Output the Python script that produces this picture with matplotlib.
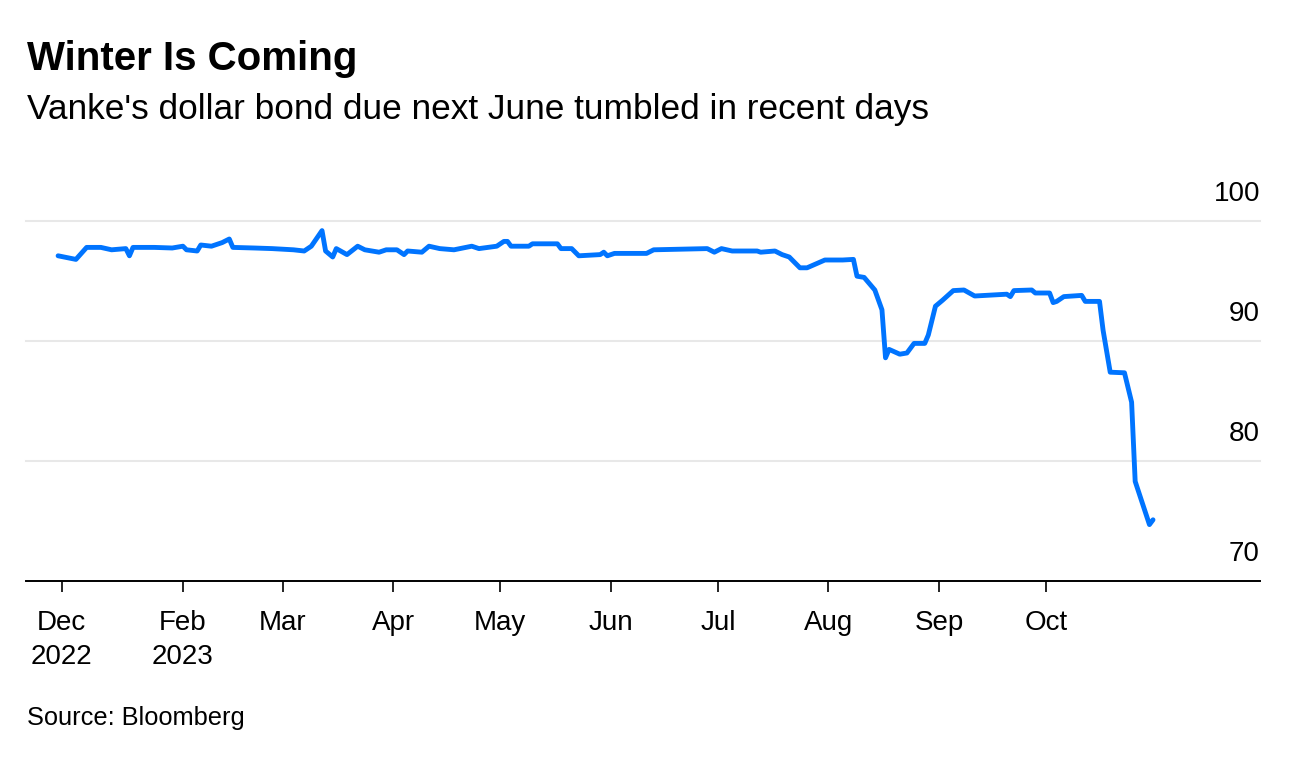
import numpy as np
import matplotlib
matplotlib.use("Agg")
import matplotlib.pyplot as plt
import pandas as pd

# Vanke dollar bond price, days counted from 2022-12-29
start_date = "2022-12-29"
day_offset = [-1, 4, 7, 11, 14, 18, 19, 20, 26, 31, 34, 35, 38, 39, 42, 45, 47, 48,
              54, 59, 65, 68, 70, 73, 74, 76, 77, 80, 83, 85, 89, 91, 94, 96, 97,
              101, 103, 106, 110, 115, 117, 122, 124, 125, 126, 131, 132, 139, 140,
              143, 145, 151, 152, 153, 155, 164, 166, 181, 183, 185, 188, 195, 196,
              200, 202, 204, 207, 209, 214, 219, 222, 223, 225, 228, 230, 231, 232,
              235, 237, 239, 242, 243, 245, 247, 250, 253, 256, 259, 265, 266, 267,
              272, 273, 277, 278, 279, 281, 286, 287, 291, 292, 294, 298, 300, 301,
              305, 306]
price = [97.1, 96.8, 97.8, 97.8, 97.6, 97.7, 97.1, 97.8, 97.8, 97.75, 97.9, 97.6,
         97.5, 98.0, 97.9, 98.2, 98.5, 97.8, 97.75, 97.7, 97.6, 97.5, 97.9, 99.2,
         97.5, 97.0, 97.7, 97.2, 97.9, 97.6, 97.4, 97.6, 97.6, 97.2, 97.5, 97.4,
         97.9, 97.7, 97.6, 97.9, 97.7, 97.9, 98.3, 98.3, 97.9, 97.9, 98.1, 98.1,
         97.7, 97.7, 97.1, 97.2, 97.4, 97.1, 97.3, 97.3, 97.6, 97.7, 97.4, 97.7,
         97.5, 97.5, 97.4, 97.5, 97.2, 97.0, 96.1, 96.1, 96.75, 96.75, 96.8, 95.4,
         95.3, 94.25, 92.6, 88.6, 89.3, 88.9, 89.0, 89.8, 89.8, 90.5, 92.9, 93.4,
         94.2, 94.25, 93.75, 93.8, 93.9, 93.7, 94.2, 94.25, 94.0, 94.0, 93.2, 93.3,
         93.7, 93.8, 93.3, 93.3, 90.9, 87.4, 87.35, 84.9, 78.3, 74.7, 75.1]

tick_dates = ["2022-12-29", "2023-02-01", "2023-03-01", "2023-04-01", "2023-05-01",
              "2023-06-01", "2023-07-01", "2023-08-01", "2023-09-01", "2023-10-01"]
tick_labels = ["Dec\n2022", "Feb\n2023", "Mar", "Apr", "May", "Jun", "Jul", "Aug",
               "Sep", "Oct"]
y_ticks = [70, 80, 90, 100]

dates = pd.Timestamp(start_date) + pd.to_timedelta(day_offset, unit="D")

plt.rcParams['font.family'] = ['Liberation Sans', 'DejaVu Sans']

W, H = 1290, 772
fig = plt.figure(figsize=(W / 100, H / 100), dpi=100)
ax = fig.add_axes([26 / W, 1 - 581 / H, (1260 - 26) / W, 360 / H])

ax.plot(dates, price, color="#0074ff", lw=3.5, solid_joinstyle="round",
        solid_capstyle="round", zorder=3)

ax.set_ylim(70, 100)
ax.set_xlim(pd.Timestamp("2022-12-19"), pd.Timestamp("2023-11-30"))

# gridlines + labels sitting above them on the right
for v in y_ticks:
    if v != 70:
        ax.axhline(v, color="#e8e8e8", lw=1.5, zorder=1, clip_on=False)
    ax.annotate(str(v), xy=(1.0, v), xycoords=("axes fraction", "data"),
                xytext=(0, 27), textcoords="offset pixels",
                ha="right", va="center", fontsize=20, color="black")

ax.set_yticks([])
for s in ["left", "right", "top"]:
    ax.spines[s].set_visible(False)
ax.spines["bottom"].set_linewidth(1.4)
ax.spines["bottom"].set_color("black")

ax.set_xticks(pd.to_datetime(tick_dates))
ax.set_xticklabels(tick_labels, fontsize=20, linespacing=1.38)
ax.tick_params(axis="x", direction="out", length=8, width=1.2, pad=13,
               color="black")

fig.text(27 / W, 1 - 70 / H, "Winter Is Coming", fontsize=29, fontweight="bold",
         ha="left", va="baseline")
fig.text(27 / W, 1 - 119 / H, "Vanke's dollar bond due next June tumbled in recent days",
         fontsize=25.4, ha="left", va="baseline")
fig.text(27 / W, 1 - 725 / H, "Source: Bloomberg", fontsize=18.3, ha="left",
         va="baseline")

fig.savefig("out.png", dpi=100)
